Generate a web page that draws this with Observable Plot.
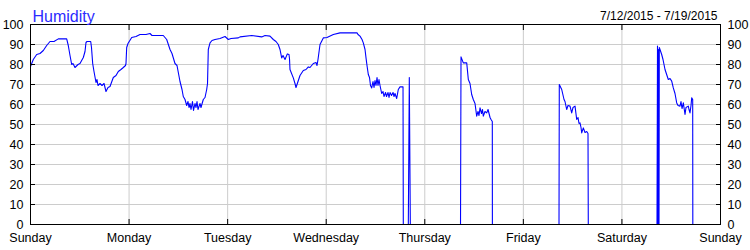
<!DOCTYPE html>
<html>
<head>
<meta charset="utf-8">
<script src="https://cdn.jsdelivr.net/npm/d3@7"></script>
<script src="https://cdn.jsdelivr.net/npm/@observablehq/plot@0.6"></script>
<style>
  html, body { margin: 0; padding: 0; background: #fff; }
  svg { display: block; }
</style>
</head>
<body>
<div id="chart"></div>
<script>
const title = "Humidity";
const dateRange = "7/12/2015 - 7/19/2015";
const dayLabels = ["Sunday","Monday","Tuesday","Wednesday","Thursday","Friday","Saturday","Sunday"];
const dayTicks = [0,24,48,72,96,120,144,168];
const yTicks = [0,10,20,30,40,50,60,70,80,90,100];

// hours since Sunday 00:00
const hours = [
0,0.68,1.51,2.31,3.12,3.94,4.75,5.72,6.77,8.81,9.20,9.62,10.03,10.35,10.83,11.57,12.05,12.86,13.27,13.51,13.76,14.66,14.85,15.14,15.46,15.95,16.19,16.43,16.92,17.41,17.90,18.38,18.87,19.36,20.16,20.82,21.38,22.03,22.60,23.13,23.25,23.42,23.74,
24.64,25.69,26.66,28.12,29.10,29.58,32.33,33.16,33.97,34.45,35.18,35.67,36.40,36.89,37.20,37.62,38.03,38.35,38.59,38.84,39.08,39.44,39.69,40.05,40.30,40.54,40.78,41.27,41.51,42.07,42.49,42.90,43.10,43.29,43.71,44.19,44.92,46.14,47.36,
48.16,48.82,50.60,51.01,53.86,56.29,57.10,58.31,59.12,59.77,60.33,60.75,61.16,61.48,61.97,62.53,62.94,63.06,63.18,63.99,64.40,64.64,64.89,65.13,65.62,66.42,67.08,67.64,68.05,68.86,69.51,69.76,70.00,70.49,71.29,
72.19,73.73,75.36,79.50,79.74,80.23,80.72,81.03,81.45,81.69,81.93,82.25,82.54,82.78,83.08,83.39,83.64,83.88,84.12,84.37,84.61,84.85,85.10,85.51,85.83,86.07,86.44,86.68,87.05,87.29,87.54,87.90,88.27,88.51,88.75,89.16,89.55,89.97,90.70,90.77,91.99,92.23,92.48,
104.70,104.82,105.38,106.21,106.60,107.01,107.42,107.81,108.23,108.64,108.96,109.20,109.45,109.81,110.05,110.25,110.66,111.08,111.40,111.89,112.13,112.44,112.46,
128.68,128.75,129.34,129.90,130.14,130.55,130.87,131.36,131.77,132.09,132.58,132.99,133.31,133.55,133.79,134.04,134.21,134.60,135.01,135.43,135.74,135.81,
152.54,152.66,152.79,152.91,153.03,153.10,153.68,154.00,154.49,155.29,155.71,156.12,156.51,156.92,157.34,157.66,158.14,158.38,158.63,158.95,159.36,159.60,160.16,160.33,160.57,160.82,160.99,161.23,161.26
];
const humidity = [
79,82.5,85,85.5,87,89.5,91.5,91.5,92.8,92.8,89.5,84.5,80,80.5,78.5,80,80.5,83.5,86.5,91,91.5,91.5,88.5,80.5,76.5,71,72.5,69.5,70.5,69.5,70.5,66.5,68.5,69,73.5,74.5,76.5,77.5,78.5,79.5,80.5,88.5,90.5,
93.5,94,95,95,95.5,94.5,94.5,92.5,87.5,85.5,80.5,79.5,71.5,67.5,64,62.5,59.5,61.5,58.5,60.5,57.5,61.5,57,60.5,58.5,61.5,57.5,60.5,58.5,62.5,63.5,67.5,70.5,87.5,90.8,92,92.5,93,94,
92.5,93,93.3,93.8,94.5,93.8,94.5,94.2,92.5,91.5,90,87.5,83.3,84.5,82.5,85.3,85,83,77.5,73.3,70.5,68.5,70,71.5,74.5,77,77.5,78.8,78.5,80.5,81,79.5,82.5,90,93.3,
93.5,95,95.8,95.8,95,94.2,92.5,90.8,87.5,83.3,79.5,75,73.5,69.5,68.3,71.5,68.5,72,69.5,73.5,69.5,72.5,69.5,65.5,66.5,64,66,64,66,63.5,66,64.5,66,64,65.5,63,67.5,68.8,68.8,0,0,73.5,0,
0,83.8,80.8,80.8,72.5,70.5,65,62.5,60.5,54.2,56.5,54.5,58.3,55.5,57.5,54.2,56.5,55.8,57.5,53.5,52.5,51.5,0,
0,70,67.5,62.5,61.5,57.5,59.5,59.2,55.8,58.5,59.2,52.5,53.5,50.5,50.8,48.5,45.8,48.3,46,46.5,45.5,0,
0,89.2,0,87.5,0,88.5,85,82.5,77.5,72.5,73,71.7,68.3,65.5,60.8,59.5,59.2,61.5,58,60.8,55,58.5,59.2,57.5,55.8,59.5,63.3,62.5,0
];

const data = hours.map((h, i) => ({h, v: humidity[i]}));
const gridColor = "#cccccc";

const chart = Plot.plot({
  width: 750,
  height: 250,
  marginTop: 24,
  marginBottom: 26,
  marginLeft: 30,
  marginRight: 30,
  style: {fontFamily: "'Liberation Sans', Arial, sans-serif", fontSize: "12.5px", color: "#000", background: "#fff"},
  x: {domain: [0, 168], axis: null},
  y: {domain: [0, 100], axis: null},
  marks: [
    Plot.gridY(yTicks, {stroke: gridColor, strokeOpacity: 1}),
    Plot.gridX(dayTicks, {stroke: gridColor, strokeOpacity: 1}),
    Plot.line(data, {x: "h", y: "v", stroke: "#0000ff", strokeWidth: 1.1}),
    Plot.frame({stroke: "#000"}),
    Plot.axisY(yTicks, {anchor: "left", label: null, tickSize: 0, tickPadding: 7, fill: "#000"}),
    Plot.axisY(yTicks, {anchor: "left", label: null, tickSize: -5, text: null, stroke: "#000"}),
    Plot.axisY(yTicks, {anchor: "right", label: null, tickSize: 0, tickPadding: 7, fill: "#000"}),
    Plot.axisY(yTicks, {anchor: "right", label: null, tickSize: -5, text: null, stroke: "#000"}),
    Plot.axisX(dayTicks, {anchor: "bottom", label: null, tickSize: 0, tickPadding: 8.5, tickFormat: d => dayLabels[d / 24], fill: "#000"}),
    Plot.axisX(dayTicks, {anchor: "bottom", label: null, tickSize: -5, text: null, stroke: "#000"}),
    Plot.axisX(dayTicks, {anchor: "top", label: null, tickSize: -5, text: null, stroke: "#000"}),
    Plot.text([title], {frameAnchor: "top-left", textAnchor: "start", dx: 2, dy: -13.5, fill: "#2b2bff", fontSize: 16}),
    Plot.text([dateRange], {frameAnchor: "top-right", textAnchor: "end", dx: -3, dy: -13, fill: "#000", fontSize: 12})
  ]
});
document.getElementById("chart").appendChild(chart);
</script>
</body>
</html>
